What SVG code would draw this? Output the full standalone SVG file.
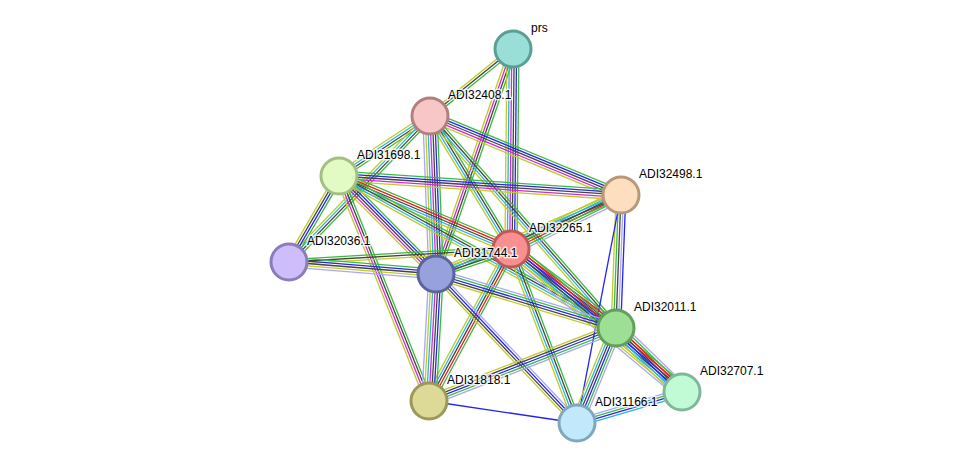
<svg xmlns="http://www.w3.org/2000/svg" width="975" height="469" viewBox="0 0 975 469">
<style>
path{fill:none;stroke-width:1.3;vector-effect:non-scaling-stroke}
.g{stroke:#3cba3c}.r{stroke:#ee1c1c}.b{stroke:#2525f0}.k{stroke:#444}.m{stroke:#d22ad2}.c{stroke:#2bb5dc}.y{stroke:#c0cb28}.h{stroke:#a7a7fa}
circle{stroke-width:3}
text{font-family:"Liberation Sans",Arial,sans-serif;font-size:12px;fill:#000;stroke:#fff;stroke-width:3;stroke-opacity:0.8;paint-order:stroke;stroke-linejoin:round}
</style>
<rect width="975" height="469" fill="#fff"/>
<g id="edges">
<g transform="translate(513 49) rotate(141.1) scale(1 1.2)"><path class="g" d="M0-2H106.7"/><path class="k" d="M0 0H106.7"/><path class="y" d="M0 2H106.7"/></g>
<g transform="translate(513 49) rotate(108.9) scale(1 1.2)"><path class="g" d="M0-3H237.8"/><path class="k" d="M0-1H237.8"/><path class="m" d="M0 1H237.8"/><path class="y" d="M0 3H237.8"/></g>
<g transform="translate(513 49) rotate(90.6) scale(1 1.2)"><path class="g" d="M0-5H200"/><path class="b" d="M0-3H200"/><path class="k" d="M0-1H200"/><path class="m" d="M0 1H200"/><path class="c" d="M0 3H200"/><path class="y" d="M0 5H200"/></g>
<g transform="translate(430 116) rotate(22.5) scale(1 1.2)"><path class="g" d="M0-4H206.7"/><path class="b" d="M0-2H206.7"/><path class="k" d="M0 0H206.7"/><path class="m" d="M0 2H206.7"/><path class="y" d="M0 4H206.7"/></g>
<g transform="translate(430 116) rotate(58.7) scale(1 1.2)"><path class="g" d="M0-3H155.7"/><path class="k" d="M0-1H155.7"/><path class="c" d="M0 1H155.7"/><path class="y" d="M0 3H155.7"/></g>
<g transform="translate(430 116) rotate(48.7) scale(1 1.2)"><path class="g" d="M0-3H282"/><path class="k" d="M0-1H282"/><path class="c" d="M0 1H282"/><path class="y" d="M0 3H282"/></g>
<g transform="translate(430 116) rotate(87.8) scale(1 1.2)"><path class="g" d="M0-6H158.1"/><path class="b" d="M0-4H158.1"/><path class="k" d="M0-2H158.1"/><path class="m" d="M0 0H158.1"/><path class="c" d="M0 2H158.1"/><path class="y" d="M0 4H158.1"/><path class="h" d="M0 6H158.1"/></g>
<g transform="translate(430 116) rotate(146.6) scale(1 1.2)"><path class="g" d="M0-3H109"/><path class="k" d="M0-1H109"/><path class="c" d="M0 1H109"/><path class="y" d="M0 3H109"/></g>
<g transform="translate(430 116) rotate(134) scale(1 1.2)"><path class="g" d="M0-3H203"/><path class="k" d="M0-1H203"/><path class="c" d="M0 1H203"/><path class="y" d="M0 3H203"/></g>
<g transform="translate(339 176) rotate(3.85) scale(1 1.2)"><path class="g" d="M0-4H282.6"/><path class="b" d="M0-2H282.6"/><path class="k" d="M0 0H282.6"/><path class="m" d="M0 2H282.6"/><path class="y" d="M0 4H282.6"/></g>
<g transform="translate(339 176) rotate(23) scale(1 1.2)"><path class="g" d="M0-4H186.9"/><path class="r" d="M0-2H186.9"/><path class="k" d="M0 0H186.9"/><path class="c" d="M0 2H186.9"/><path class="y" d="M0 4H186.9"/></g>
<g transform="translate(339 176) rotate(45.3) scale(1 1.2)"><path class="g" d="M0-4H137.9"/><path class="b" d="M0-2H137.9"/><path class="k" d="M0 0H137.9"/><path class="m" d="M0 2H137.9"/><path class="y" d="M0 4H137.9"/></g>
<g transform="translate(339 176) rotate(120.2) scale(1 1.2)"><path class="g" d="M0-3H99.5"/><path class="b" d="M0-1H99.5"/><path class="k" d="M0 1H99.5"/><path class="y" d="M0 3H99.5"/></g>
<g transform="translate(339 176) rotate(68.2) scale(1 1.2)"><path class="g" d="M0-3H242.3"/><path class="k" d="M0-1H242.3"/><path class="m" d="M0 1H242.3"/><path class="y" d="M0 3H242.3"/></g>
<g transform="translate(339 176) rotate(28.8) scale(1 1.2)"><path class="g" d="M0-3H316"/><path class="k" d="M0-1H316"/><path class="c" d="M0 1H316"/><path class="y" d="M0 3H316"/></g>
<g transform="translate(289 262) rotate(-3.35) scale(1 1.2)"><path class="g" d="M0-2H222.4"/><path class="k" d="M0 0H222.4"/><path class="y" d="M0 2H222.4"/></g>
<g transform="translate(289 262) rotate(4.67) scale(1 1.2)"><path class="g" d="M0-4H147.5"/><path class="b" d="M0-2H147.5"/><path class="k" d="M0 0H147.5"/><path class="y" d="M0 2H147.5"/><path class="h" d="M0 4H147.5"/></g>
<g transform="translate(621 195) rotate(153.9) scale(1 1.2)"><path class="h" d="M0-5H122.5"/><path class="g" d="M0-3H122.5"/><path class="r" d="M0-1H122.5"/><path class="k" d="M0 1H122.5"/><path class="c" d="M0 3H122.5"/><path class="y" d="M0 5H122.5"/></g>
<g transform="translate(621 195) rotate(156.9) scale(1 1.2)"><path class="g" d="M0-3H201.2"/><path class="k" d="M0-1H201.2"/><path class="c" d="M0 1H201.2"/><path class="y" d="M0 3H201.2"/></g>
<g transform="translate(621 195) rotate(92.2) scale(1 1.2)"><path class="b" d="M0-4H133.1"/><path class="h" d="M0-2H133.1"/><path class="k" d="M0 0H133.1"/><path class="g" d="M0 2H133.1"/><path class="y" d="M0 4H133.1"/></g>
<g transform="translate(621 195) rotate(100.9)"><path class="b" d="M0 0H232.2"/></g>
<g transform="translate(511 249) rotate(161.6) scale(1 1.2)"><path class="g" d="M0-3H79.1"/><path class="k" d="M0-1H79.1"/><path class="c" d="M0 1H79.1"/><path class="y" d="M0 3H79.1"/></g>
<g transform="translate(511 249) rotate(36.96) scale(1 1.2)"><path class="g" d="M0-5H131.4"/><path class="r" d="M0-3H131.4"/><path class="b" d="M0-1H131.4"/><path class="k" d="M0 1H131.4"/><path class="c" d="M0 3H131.4"/><path class="y" d="M0 5H131.4"/></g>
<g transform="translate(511 249) rotate(39.9) scale(1 1.2)"><path class="g" d="M0-6H222.9"/><path class="r" d="M0-4H222.9"/><path class="b" d="M0-2H222.9"/><path class="k" d="M0 0H222.9"/><path class="c" d="M0 2H222.9"/><path class="y" d="M0 4H222.9"/><path class="h" d="M0 6H222.9"/></g>
<g transform="translate(511 249) rotate(118.4) scale(1 1.2)"><path class="g" d="M0-4H172.7"/><path class="r" d="M0-2H172.7"/><path class="k" d="M0 0H172.7"/><path class="c" d="M0 2H172.7"/><path class="y" d="M0 4H172.7"/></g>
<g transform="translate(511 249) rotate(69.2) scale(1 1.2)"><path class="g" d="M0-3H186.1"/><path class="k" d="M0-1H186.1"/><path class="c" d="M0 1H186.1"/><path class="y" d="M0 3H186.1"/></g>
<g transform="translate(436 274) rotate(16.7) scale(1 1.2)"><path class="h" d="M0-4H187.9"/><path class="g" d="M0-2H187.9"/><path class="b" d="M0 0H187.9"/><path class="k" d="M0 2H187.9"/><path class="y" d="M0 4H187.9"/></g>
<g transform="translate(436 274) rotate(93.2) scale(1 1.2)"><path class="g" d="M0-6H127.2"/><path class="b" d="M0-4H127.2"/><path class="k" d="M0-2H127.2"/><path class="m" d="M0 0H127.2"/><path class="c" d="M0 2H127.2"/><path class="y" d="M0 4H127.2"/><path class="h" d="M0 6H127.2"/></g>
<g transform="translate(436 274) rotate(46.6) scale(1 1.2)"><path class="h" d="M0-3H205.1"/><path class="b" d="M0-1H205.1"/><path class="k" d="M0 1H205.1"/><path class="y" d="M0 3H205.1"/></g>
<g transform="translate(616 328) rotate(158.7) scale(1 1.2)"><path class="h" d="M0-4H200.7"/><path class="g" d="M0-2H200.7"/><path class="b" d="M0 0H200.7"/><path class="k" d="M0 2H200.7"/><path class="y" d="M0 4H200.7"/></g>
<g transform="translate(616 328) rotate(112.3) scale(1 1.2)"><path class="h" d="M0-5H102.7"/><path class="g" d="M0-3H102.7"/><path class="b" d="M0-1H102.7"/><path class="k" d="M0 1H102.7"/><path class="c" d="M0 3H102.7"/><path class="y" d="M0 5H102.7"/></g>
<g transform="translate(616 328) rotate(44.1) scale(1 1.2)"><path class="h" d="M0-6H91.9"/><path class="g" d="M0-4H91.9"/><path class="r" d="M0-2H91.9"/><path class="k" d="M0 0H91.9"/><path class="b" d="M0 2H91.9"/><path class="c" d="M0 4H91.9"/><path class="y" d="M0 6H91.9"/></g>
<g transform="translate(429 401) rotate(8.45)"><path class="b" d="M0 0H149.6"/></g>
<g transform="translate(577 423) rotate(-16.4) scale(1 1.2)"><path class="h" d="M0-3H109.5"/><path class="g" d="M0-1H109.5"/><path class="b" d="M0 1H109.5"/><path class="c" d="M0 3H109.5"/></g>
</g>
<g id="prs"><circle cx="513" cy="49" r="18" fill="#99dfd7" stroke="#5a9e96"/><text x="531" y="32">prs</text></g>
<g id="ADI32408.1"><circle cx="430" cy="116" r="18" fill="#f7c7c7" stroke="#b08080"/><text x="448" y="99">ADI32408.1</text></g>
<g id="ADI31698.1"><circle cx="339" cy="176" r="18" fill="#e2fbc4" stroke="#a3bf82"/><text x="357" y="159">ADI31698.1</text></g>
<g id="ADI32498.1"><circle cx="621" cy="195" r="18" fill="#fddfc0" stroke="#b8987a"/><text x="639" y="178">ADI32498.1</text></g>
<g id="ADI32036.1"><circle cx="289" cy="262" r="18" fill="#cdbdfa" stroke="#8c7cba"/><text x="307" y="245">ADI32036.1</text></g>
<g id="ADI32265.1"><circle cx="511" cy="249" r="18" fill="#f99090" stroke="#c05858"/><text x="529" y="232">ADI32265.1</text></g>
<g id="ADI31744.1"><circle cx="436" cy="274" r="18" fill="#97a2dd" stroke="#5a639e"/><text x="454" y="257">ADI31744.1</text></g>
<g id="ADI32011.1"><circle cx="616" cy="328" r="18" fill="#9ddf95" stroke="#60a058"/><text x="634" y="311">ADI32011.1</text></g>
<g id="ADI32707.1"><circle cx="682" cy="392" r="18" fill="#c1fbd6" stroke="#80b896"/><text x="700" y="375">ADI32707.1</text></g>
<g id="ADI31818.1"><circle cx="429" cy="401" r="18" fill="#ddd996" stroke="#9c9859"/><text x="447" y="384">ADI31818.1</text></g>
<g id="ADI31166.1"><circle cx="577" cy="423" r="18" fill="#c2e8fb" stroke="#80a8bc"/><text x="595" y="406">ADI31166.1</text></g>
</svg>
